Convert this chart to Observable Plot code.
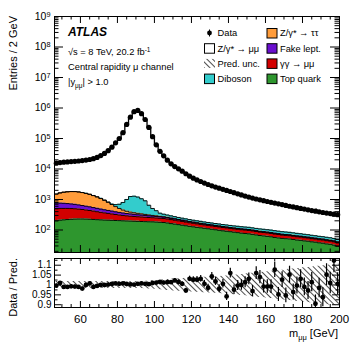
<!DOCTYPE html>
<html><head><meta charset="utf-8">
<script src="https://cdn.jsdelivr.net/npm/d3@7"></script>
<script src="https://cdn.jsdelivr.net/npm/@observablehq/plot@0.6"></script>
<style>
body{margin:0;background:#fff;}
#wrap{position:relative;width:357px;height:344px;font-family:"Liberation Sans",Arial,sans-serif;background:#fff;}
#wrap > svg{position:absolute;left:0;}
</style></head><body><div id="wrap"></div>
<script>
const massLow = 46, massHigh = 200, binWidth = 2;

const dataCounts = [
15500,16200,16700,17100,17500,17900,18300,18900,19600,20500,
21800,24000,27500,32500,40000,52000,72000,100000,155000,290000,
500000,760000,830000,650000,420000,230000,115000,62000,38000,27000,
19500,14800,12000,10100,8500,7000,5800,5000,4400,3900,
3450,3100,2800,2550,2350,2150,1980,1830,1680,1540,
1410,1300,1200,1110,1040,975,915,860,810,765,
720,680,640,600,570,540,510,485,460,435,
415,395,375,360,345,330,318];

const ratioValues = [
0.997,1.01,0.99,0.99,0.993,0.992,0.99,0.982,1.0,1.008,
0.99,0.995,1.0,1.0,1.002,1.005,1.008,1.006,1.008,1.005,
1.003,1.002,1.006,1.008,1.006,1.004,1.01,1.012,1.015,1.012,
1.014,1.014,1.023,1.015,1.006,0.972,1.031,1.027,1.027,1.031,
1.006,0.986,1.043,1.018,0.981,1.006,0.942,1.06,0.976,0.997,
1.0,1.014,1.031,0.969,1.06,1.04,0.992,0.992,0.992,1.077,
0.952,1.027,0.947,1.052,0.964,0.997,1.031,0.99,0.972,1.014,
0.905,0.985,0.938,1.052,1.01,1.124,1.006];

const topQuark = [
200,210,215,220,225,228,230,230,228,226,
222,218,215,212,210,208,205,203,200,198,
196,194,192,190,188,186,185,182,179,176,
170,162,156,150,144,138,132,127,122,118,
114,110,106,102,98,94,91,88,85,82,
79,77,75,72,69,66,64,62,60,57,
55,53,52,51,49,47,46,44,43,41,
40,38,37,35,34,32,29];

const gammaGamma = [
300,300,295,290,280,270,255,240,225,210,
195,180,165,152,140,128,117,108,100,93,
88,84,80,77,74,71,68,66,64,62,
60,57,54,50,47,44,41,39,37,35,
33,31.5,30,29,28,27,26,25,24,23.5,
23,22.5,22,21,20,19,18.5,18,17,16.5,
16,15,14.5,14,13.5,13,12.5,12,11.5,11,
10.5,10,10,9.5,9,9,8.5];

const fakeLept = [
260,250,240,225,210,195,180,165,150,138,
126,115,105,96,88,80,73,67,61,56,
52,48,44,41,38,35,32,30,28,26,
24,22,20,18,16.5,15,14,13,12,11,
10,9.5,9,8.5,8,7.5,7,6.5,6.2,6,
5.8,5.6,5.4,5.2,5,4.8,4.6,4.5,4.4,4.2,
4,3.9,3.8,3.7,3.6,3.5,3.4,3.3,3.2,3.1,
3,3,2.9,2.8,2.7,2.6,2.5];

const zTauTau = [
740,880,980,1050,1100,1120,1100,1050,980,900,
800,700,590,480,370,270,190,130,90,65,
50,42,36,30,25,20,16,13,10,8,
6,5,4,3.5,3,2.8,2.6,2.4,2.2,2,
1.9,1.8,1.7,1.6,1.5,1.4,1.3,1.2,1.2,1.1,
1.1,1,1,1,0.9,0.9,0.9,0.8,0.8,0.8,
0.7,0.7,0.7,0.7,0.6,0.6,0.6,0.6,0.6,0.5,
0.5,0.5,0.5,0.5,0.5,0.4,0.4];

const diboson = [
10,10,10,11,11,11,12,12,12,13,
13,14,14,15,16,20,95,190,350,590,
865,915,850,720,580,335,207,138,75,58,
50,45,40,37,34,32,30,28,27,26,
25,24,23,22,22,21,21,20.5,20,20,
19.5,19,19,18.5,18,18,17.5,17,17,16.5,
16,15.5,15,14.5,14,13.5,13,12.5,12,11.5,
11,10.5,10,10,9.5,9,9];

const predUnc = [
0.018,0.018,0.018,0.018,0.018,0.018,0.018,0.018,0.018,0.018,
0.018,0.018,0.018,0.018,0.018,0.018,0.018,0.018,0.018,0.018,
0.018,0.018,0.018,0.018,0.019,0.02,0.021,0.022,0.024,0.026,
0.028,0.03,0.031,0.032,0.033,0.034,0.035,0.036,0.037,0.038,
0.039,0.04,0.041,0.042,0.043,0.044,0.045,0.047,0.049,0.051,
0.053,0.055,0.057,0.059,0.061,0.063,0.065,0.067,0.069,0.071,
0.073,0.075,0.077,0.079,0.081,0.083,0.085,0.087,0.089,0.091,
0.093,0.095,0.097,0.099,0.101,0.103,0.105];

const xTicks = [60, 80, 100, 120, 140, 160, 180, 200];
const yDecades = [1e2, 1e3, 1e4, 1e5, 1e6, 1e7, 1e8, 1e9];
const ratioTicks = [0.9, 0.95, 1, 1.05, 1.1];

const compColors = ["#2e962e", "#d20000", "#6a0fcf", "#ff9c3a", "#33cccc"];
const comps = [topQuark, gammaGamma, fakeLept, zTauTau, diboson];

const yMin = 18.3, yMax = 1e9;
const rMin = 0.886, rMax = 1.134;
const W = 357, mL = 54, mR = 18;
const innerW = W - mL - mR;
const mainH = 254, mainTop = 16, mainBottom = 2, mainInnerH = mainH - mainTop - mainBottom;
const ratH = 90, ratTop = 4, ratBottom = 37, ratInnerH = ratH - ratTop - ratBottom;
const HATCH = "#010203";
const font = "'Liberation Sans', Arial, sans-serif";

const lows = d3.range(massLow, massHigh, binWidth);
const centers = lows.map(l => l + binWidth / 2);
const total = dataCounts.map((d, i) => d / ratioValues[i]);

const sums = [lows.map(() => 0)];
comps.forEach(c => { const p = sums[sums.length - 1]; sums.push(p.map((v, i) => v + c[i])); });

function step(lo, hi) {
  const rows = lows.map((x, i) => ({x, lo: lo[i], hi: hi[i]}));
  const n = lows.length - 1;
  rows.push({x: massHigh, lo: lo[n], hi: hi[n]});
  return rows;
}
const base = lows.map(() => yMin);

const xMinor = d3.range(50, 200, 5).filter(v => v % 20 !== 0);
const yMinor = [];
for (let e = 1; e <= 8; e++) for (let m = 2; m <= 9; m++) { const v = m * 10 ** e; if (v > yMin && v < yMax) yMinor.push(v); }

const mainMarks = [];
mainMarks.push(Plot.areaY(step(sums[5], total), {x: "x", y1: "lo", y2: "hi", curve: "step-after", fill: "white"}));
for (let k = 4; k >= 0; k--) {
  mainMarks.push(Plot.areaY(step(k === 0 ? base : sums[k], sums[k + 1]), {x: "x", y1: "lo", y2: "hi", curve: "step-after", fill: compColors[k]}));
}
for (let k = 1; k <= 5; k++) {
  mainMarks.push(Plot.lineY(step(sums[k], sums[k]), {x: "x", y: "hi", curve: "step-after", stroke: "black", strokeWidth: 0.9}));
}
mainMarks.push(Plot.areaY(step(total.map((t, i) => t * (1 - predUnc[i])), total.map((t, i) => t * (1 + predUnc[i]))), {x: "x", y1: "lo", y2: "hi", curve: "step-after", fill: HATCH}));
mainMarks.push(Plot.lineY(step(total, total), {x: "x", y: "hi", curve: "step-after", stroke: "black", strokeWidth: 1.3}));
const pts = centers.map((x, i) => ({x, y: dataCounts[i], e: Math.sqrt(dataCounts[i]), r: ratioValues[i], re: ratioValues[i] / Math.sqrt(dataCounts[i]), u: predUnc[i]}));
mainMarks.push(Plot.ruleX(pts, {x: "x", y1: d => d.y - d.e, y2: d => d.y + d.e, stroke: "black"}));
mainMarks.push(Plot.dot(pts, {x: "x", y: "y", r: 2.6, fill: "black", stroke: null}));
mainMarks.push(Plot.frame({stroke: "black", strokeWidth: 1}));
mainMarks.push(Plot.tickY(yDecades, {y: d => d, insetRight: innerW - 9, stroke: "black"}));
mainMarks.push(Plot.tickY(yDecades, {y: d => d, insetLeft: innerW - 9, stroke: "black"}));
mainMarks.push(Plot.tickY(yMinor, {y: d => d, insetRight: innerW - 4.5, stroke: "black"}));
mainMarks.push(Plot.tickY(yMinor, {y: d => d, insetLeft: innerW - 4.5, stroke: "black"}));
mainMarks.push(Plot.tickX(xTicks, {x: d => d, insetTop: mainInnerH - 7, stroke: "black"}));
mainMarks.push(Plot.tickX(xTicks, {x: d => d, insetBottom: mainInnerH - 7, stroke: "black"}));
mainMarks.push(Plot.tickX(xMinor, {x: d => d, insetTop: mainInnerH - 3.5, stroke: "black"}));
mainMarks.push(Plot.tickX(xMinor, {x: d => d, insetBottom: mainInnerH - 3.5, stroke: "black"}));
mainMarks.push(Plot.axisY(yDecades, {tickSize: 0, tickPadding: 4, fontSize: 10.5, label: null, tickFormat: d => "10^" + Math.round(Math.log10(d))}));

const mainSvg = Plot.plot({
  width: W, height: mainH, marginLeft: mL, marginRight: mR, marginTop: mainTop, marginBottom: mainBottom,
  style: {fontFamily: font, background: "transparent", overflow: "visible"},
  x: {domain: [massLow, massHigh], axis: null},
  y: {type: "log", domain: [yMin, yMax]},
  marks: mainMarks
});

const ratioMinorY = [0.9, 0.925, 0.95, 0.975, 1, 1.025, 1.05, 1.075, 1.1, 1.125].filter(v => !ratioTicks.includes(v));
const ratioMarks = [
  Plot.areaY(step(predUnc.map(u => 1 - u), predUnc.map(u => 1 + u)), {x: "x", y1: "lo", y2: "hi", curve: "step-after", fill: HATCH, clip: true}),
  Plot.ruleX(pts, {x: "x", y1: d => d.r - d.re, y2: d => d.r + d.re, stroke: "black", strokeWidth: 1.2, clip: true}),
  Plot.dot(pts, {x: "x", y: "r", r: 2.4, fill: "black", stroke: null, clip: true}),
  Plot.frame({stroke: "black", strokeWidth: 1}),
  Plot.tickY(ratioTicks, {y: d => d, insetRight: innerW - 7, stroke: "black"}),
  Plot.tickY(ratioTicks, {y: d => d, insetLeft: innerW - 7, stroke: "black"}),
  Plot.tickY(ratioMinorY, {y: d => d, insetRight: innerW - 3.5, stroke: "black"}),
  Plot.tickY(ratioMinorY, {y: d => d, insetLeft: innerW - 3.5, stroke: "black"}),
  Plot.tickX(xTicks, {x: d => d, insetTop: ratInnerH - 6, stroke: "black"}),
  Plot.tickX(xTicks, {x: d => d, insetBottom: ratInnerH - 6, stroke: "black"}),
  Plot.tickX(xMinor, {x: d => d, insetTop: ratInnerH - 3, stroke: "black"}),
  Plot.tickX(xMinor, {x: d => d, insetBottom: ratInnerH - 3, stroke: "black"}),
  Plot.axisY(ratioTicks, {tickSize: 0, tickPadding: 3, fontSize: 10, label: null, tickFormat: d => String(d)}),
  Plot.axisX(xTicks, {tickSize: 0, tickPadding: 7, fontSize: 11.5, label: null, tickFormat: d => String(d)})
];
const ratioSvg = Plot.plot({
  width: W, height: ratH, marginLeft: mL, marginRight: mR, marginTop: ratTop, marginBottom: ratBottom,
  style: {fontFamily: font, background: "transparent", overflow: "visible"},
  x: {domain: [massLow, massHigh]},
  y: {domain: [rMin, rMax]},
  marks: ratioMarks
});

const wrap = document.getElementById("wrap");
mainSvg.style.top = "0px";
ratioSvg.style.top = mainH + "px";
wrap.appendChild(mainSvg);
wrap.appendChild(ratioSvg);

const NS = "http://www.w3.org/2000/svg";
mainSvg.querySelectorAll("text").forEach(t => {
  const m = /^10\^(\d+)$/.exec(t.textContent);
  if (m) {
    t.textContent = "10";
    const ts = document.createElementNS(NS, "tspan");
    ts.setAttribute("dy", "-0.45em");
    ts.setAttribute("font-size", "0.7em");
    ts.textContent = m[1];
    t.appendChild(ts);
  }
});
[mainSvg, ratioSvg].forEach(s => s.querySelectorAll(`[fill="${HATCH}"]`).forEach(el => el.setAttribute("fill", "url(#hatch)")));

const legendLeft = [
  {type: "data", label: "Data"},
  {type: "box", color: "white", label: "Z/γ* → μμ"},
  {type: "hatch", label: "Pred. unc."},
  {type: "box", color: compColors[4], label: "Diboson"}
];
const legendRight = [
  {type: "box", color: compColors[3], label: "Z/γ* → ττ"},
  {type: "box", color: compColors[2], label: "Fake lept."},
  {type: "box", color: compColors[1], label: "γγ → μμ"},
  {type: "box", color: compColors[0], label: "Top quark"}
];
let ov = `<svg xmlns="${NS}" width="357" height="344" style="top:0;pointer-events:none;font-family:${font.replace(/'/g, '&quot;')}">
<defs><pattern id="hatch" patternUnits="userSpaceOnUse" width="4" height="4" patternTransform="rotate(-45)"><line x1="0" y1="-1" x2="0" y2="5" stroke="#111" stroke-width="1.5"/></pattern></defs>
<text x="68" y="36" font-size="12" font-weight="bold" font-style="italic">ATLAS</text>
<text x="68" y="55" font-size="9.3">√s = 8 TeV, 20.2 fb<tspan dy="-3.5" font-size="6.5">-1</tspan></text>
<text x="68" y="70" font-size="9.3">Central rapidity μ channel</text>
<text x="68" y="85" font-size="9.3">|y<tspan dy="2.5" font-size="6.5">μμ</tspan><tspan dy="-2.5">| &gt; 1.0</tspan></text>
<text transform="translate(17,16) rotate(-90)" text-anchor="end" font-size="11">Entries / 2 GeV</text>
<text transform="translate(17,258) rotate(-90)" text-anchor="end" font-size="11">Data / Pred.</text>
<text x="338" y="337" text-anchor="end" font-size="11">m<tspan dy="2.5" font-size="7.5">μμ</tspan><tspan dy="-2.5"> [GeV]</tspan></text>`;
function legendCol(items, bx, tx) {
  items.forEach((it, i) => {
    const yc = 33 + i * 15.2;
    if (it.type === "data") {
      ov += `<line x1="${bx + 5.5}" x2="${bx + 5.5}" y1="${yc - 3.5}" y2="${yc + 3.5}" stroke="#000" stroke-width="1"/><circle cx="${bx + 5.5}" cy="${yc}" r="2.4" fill="#000"/>`;
    } else if (it.type === "hatch") {
      ov += `<rect x="${bx}" y="${yc - 4.5}" width="11" height="9" fill="url(#hatch)"/>`;
    } else {
      ov += `<rect x="${bx + 0.5}" y="${yc - 4.5}" width="10" height="9.5" fill="${it.color}" stroke="#000" stroke-width="1"/>`;
    }
    ov += `<text x="${tx}" y="${yc + 3.4}" font-size="9.3">${it.label}</text>`;
  });
}
legendCol(legendLeft, 204, 217.5);
legendCol(legendRight, 266.5, 280);
ov += `</svg>`;
wrap.insertAdjacentHTML("beforeend", ov);
</script></body></html>
